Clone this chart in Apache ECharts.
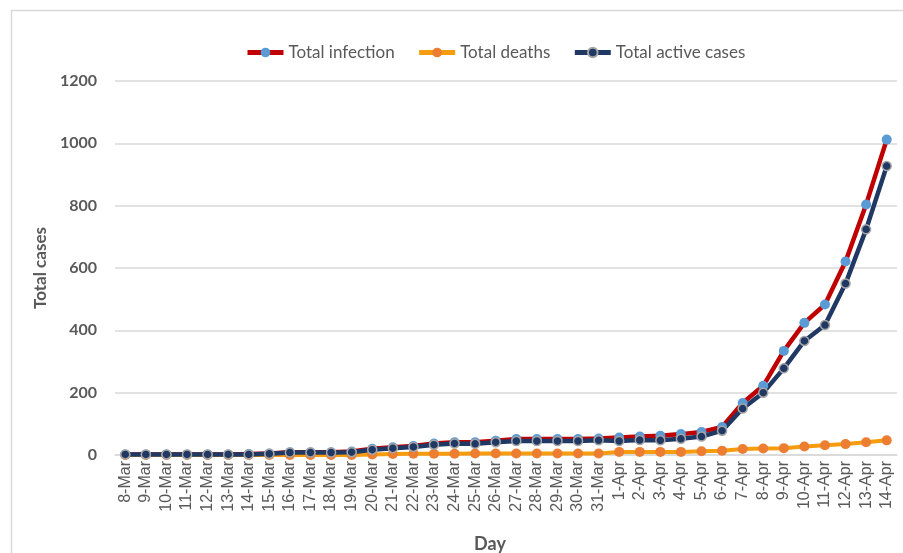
<!DOCTYPE html>
<html>
<head>
<meta charset="utf-8">
<script src="https://cdn.jsdelivr.net/npm/echarts@6/dist/echarts.min.js"></script>
<style>html,body{margin:0;padding:0;background:#fff;}#c{width:903px;height:553px;}</style>
</head>
<body>
<div id="c"></div>
<script>
const days = ['8-Mar','9-Mar','10-Mar','11-Mar','12-Mar','13-Mar','14-Mar','15-Mar','16-Mar','17-Mar','18-Mar','19-Mar','20-Mar','21-Mar','22-Mar','23-Mar','24-Mar','25-Mar','26-Mar','27-Mar','28-Mar','29-Mar','30-Mar','31-Mar','1-Apr','2-Apr','3-Apr','4-Apr','5-Apr','6-Apr','7-Apr','8-Apr','9-Apr','10-Apr','11-Apr','12-Apr','13-Apr','14-Apr'];
const totalInfection = [2,2,2,2,2,2,3,5,9,9,9,11,20,25,29,37,41,41,46,51,51,51,51,53,56,59,62,67,74,90,167,222,334,424,483,621,804,1012];
const totalDeaths = [0,0,0,0,0,0,0,0,0,0,0,0,2,3,4,4,4,5,5,5,5,5,5,5,10,10,10,10,12,14,19,21,22,27,31,35,41,47];
const totalActive = [2,2,2,2,2,2,2,4,8,8,8,9,17,22,26,33,37,36,41,45,45,45,45,47,45,48,47,52,59,78,149,200,278,366,417,550,724,927];
const yTicks = [0,200,400,600,800,1000,1200];

const chart = echarts.init(document.getElementById('c'));
chart.setOption({
  animation: false,
  backgroundColor: '#fff',
  graphic: [{type:'rect', shape:{x:11.5,y:10.5,width:1000,height:1000}, style:{fill:'none', stroke:'#D9D9D9', lineWidth:1.5}, silent:true}],
  legend: {
    top: 39, left: 240,
    itemWidth: 36, itemHeight: 12, itemGap: 22,
    lineStyle: {width: 5},
    textStyle: {fontFamily: 'Lato', fontSize: 17, color: '#595959'},
    data: ['Total infection','Total deaths','Total active cases']
  },
  grid: {left: 115, right: 6, top: 81, bottom: 98, containLabel: false, outerBoundsMode: 'none'},
  xAxis: {
    type: 'category', data: days, boundaryGap: true,
    name: 'Day', nameLocation: 'middle', nameGap: 80,
    nameTextStyle: {fontFamily: 'Lato', fontSize: 18, fontWeight: 'bold', color: '#595959', padding: [0, 32, 0, 0]},
    axisLine: {show: true, lineStyle: {color: '#D9D9D9', width: 1.5}},
    axisTick: {show: false},
    axisLabel: {interval: 0, rotate: 90, fontFamily: 'Liberation Sans', fontSize: 16, color: '#595959', margin: 6}
  },
  yAxis: {
    type: 'value', min: 0, max: 1200, interval: 200,
    name: 'Total cases', nameLocation: 'middle', nameGap: 66,
    nameTextStyle: {fontFamily: 'Lato', fontSize: 17, fontWeight: 'bold', color: '#595959'},
    axisLine: {show: false}, axisTick: {show: false},
    axisLabel: {fontFamily: 'Lato', fontSize: 16, fontWeight: 'bold', color: '#595959', margin: 18,
      formatter: v => yTicks.includes(v) ? String(v) : ''},
    splitLine: {lineStyle: {color: '#D9D9D9', width: 1.5}}
  },
  series: [
    {name: 'Total infection', type: 'line', data: totalInfection,
     symbol: 'circle', symbolSize: 10,
     lineStyle: {color: '#C00000', width: 4.5},
     itemStyle: {color: '#5B9BD5', borderWidth: 0}},
    {name: 'Total deaths', type: 'line', data: totalDeaths,
     symbol: 'circle', symbolSize: 10,
     lineStyle: {color: '#F59D0E', width: 4},
     itemStyle: {color: '#ED7D31', borderWidth: 0}},
    {name: 'Total active cases', type: 'line', data: totalActive,
     symbol: 'circle', symbolSize: 9,
     lineStyle: {color: '#203864', width: 4.5},
     itemStyle: {color: '#1F3864', borderColor: '#A5A5A5', borderWidth: 1.5}}
  ]
});
</script>
</body>
</html>
